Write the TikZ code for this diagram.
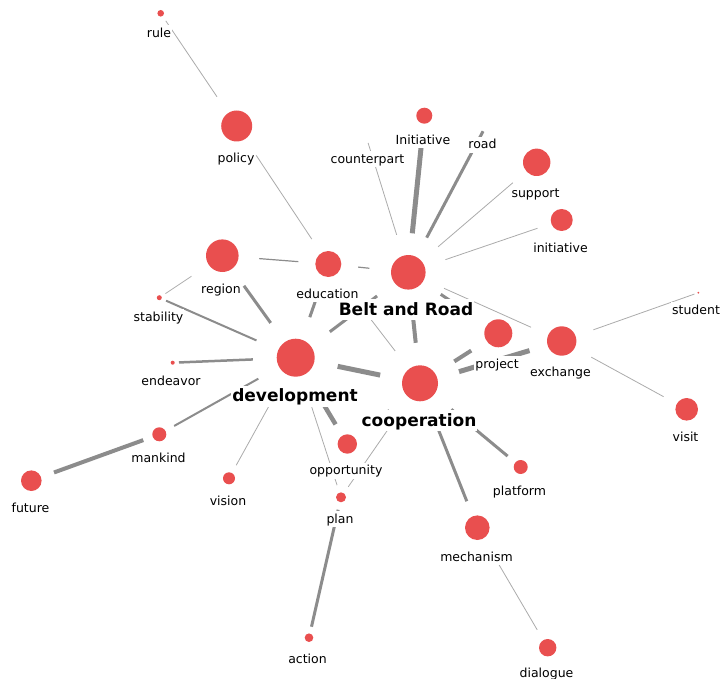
\documentclass[tikz,border=0pt]{standalone}
\usepackage{fontspec}
\setmainfont{DejaVu Sans}
\usepackage{tikz}
\pgfdeclarelayer{links}
\pgfsetlayers{links,main}

\begin{document}
\begin{tikzpicture}[x=1pt,y=-1pt,
        word/.style={circle, fill=dotred, inner sep=0pt, minimum size=2*#1, outer sep=1.15*#1+2},
        tag/.style={anchor=base, fill=white, inner xsep=1pt, inner ysep=1pt, text height=11pt, text depth=3pt, font=\fontsize{12.5}{14}\selectfont},
        bigtag/.style={anchor=base, fill=white, inner xsep=1pt, inner ysep=1pt, text height=15pt, text depth=4pt, font=\fontsize{17}{20}\selectfont\bfseries},
        link/.style={draw=linkgray, line width=#1},
        faint/.style={draw=faintgray, line width=0.8}]
            % colours of the dots and the links
            \definecolor{dotred}{HTML}{E94F4F}
            \definecolor{linkgray}{HTML}{8C8C8C}
            \definecolor{faintgray}{HTML}{ABABAB}
            \useasboundingbox (0,0) rectangle (720,679);
            % words, size of the dot is the weight
            \node[word=3.3] (rule) at (160.7,13.3) {};
            \node[tag] (rule-t) at (159,37.5) {rule};
            \node[word=15.5] (policy) at (236.7,126) {};
            \node[tag] (policy-t) at (236,162.5) {policy};
            \node[word=8] (Initiative) at (424.3,115.7) {};
            \node[tag] (Initiative-t) at (423,144.5) {Initiative};
            \node[word=0, fill=none] (counterpart) at (367.5,141) {};
            \node[tag] (counterpart-t) at (367.5,163.5) {counterpart};
            \node[word=0, fill=none] (road) at (484,129.5) {};
            \node[tag] (road-t) at (482.5,149) {road};
            \node[word=13.7] (support) at (536.7,162.3) {};
            \node[tag] (support-t) at (535.5,197) {support};
            \node[word=11] (initiative) at (561.7,220) {};
            \node[tag] (initiative-t) at (560.5,252) {initiative};
            \node[word=16.3] (region) at (222.3,255.7) {};
            \node[tag] (region-t) at (221,293) {region};
            \node[word=13] (education) at (328.3,264) {};
            \node[tag] (education-t) at (327.5,298) {education};
            \node[word=17.3] (belt) at (408.3,272.3) {};
            \node[bigtag] (belt-t) at (406,315) {Belt and Road};
            \node[word=2.5] (stability) at (159.3,297.7) {};
            \node[tag] (stability-t) at (158.5,321) {stability};
            \node[word=2] (endeavor) at (172.7,362.7) {};
            \node[tag] (endeavor-t) at (171,385.7) {endeavor};
            \node[word=19] (development) at (295.7,357.7) {};
            \node[bigtag] (development-t) at (295,401.7) {development};
            \node[word=18] (cooperation) at (420,383.3) {};
            \node[bigtag] (cooperation-t) at (419,426) {cooperation};
            \node[word=14] (project) at (498.3,333.3) {};
            \node[tag] (project-t) at (497,368) {project};
            \node[word=14.7] (exchange) at (561.7,341) {};
            \node[tag] (exchange-t) at (560.5,376.5) {exchange};
            \node[word=1] (student) at (698.3,292.7) {};
            \node[tag] (student-t) at (696,314) {student};
            \node[word=11.3] (visit) at (686.7,409.3) {};
            \node[tag] (visit-t) at (685.5,441.5) {visit};
            \node[word=7] (mankind) at (159.3,434.3) {};
            \node[tag] (mankind-t) at (158.5,462) {mankind};
            \node[word=10.3] (future) at (31.3,480.7) {};
            \node[tag] (future-t) at (30.5,512) {future};
            \node[word=6] (vision) at (229,478.3) {};
            \node[tag] (vision-t) at (228,505) {vision};
            \node[word=9.7] (opportunity) at (347.3,444) {};
            \node[tag] (opportunity-t) at (346,474.5) {opportunity};
            \node[word=5] (plan) at (341,497.3) {};
            \node[tag] (plan-t) at (340,523) {plan};
            \node[word=7] (platform) at (520.7,467) {};
            \node[tag] (platform-t) at (519.5,495) {platform};
            \node[word=12.3] (mechanism) at (477.3,527.7) {};
            \node[tag] (mechanism-t) at (476.5,561) {mechanism};
            \node[word=4.3] (action) at (309,637.7) {};
            \node[tag] (action-t) at (307.5,663) {action};
            \node[word=8.7] (dialogue) at (547.7,647.7) {};
            \node[tag] (dialogue-t) at (546.5,677) {dialogue};
            % links go under the words
            \begin{pgfonlayer}{links}
            \draw[faint] (rule) -- (policy);
            \draw[faint] (policy) -- (education);
            \draw[link=1.2] (region) -- (education);
            \draw[link=1.2] (education) -- (belt);
            \draw[faint] (region) -- (stability);
            \draw[link=3] (region) -- (development);
            \draw[link=2] (stability) -- (development);
            \draw[link=2.5] (endeavor) -- (development);
            \draw[link=3] (education) -- (development);
            \draw[faint] (education) -- (cooperation);
            \draw[link=3] (belt) -- (development);
            \draw[link=4] (belt) -- (cooperation);
            \draw[link=5] (development) -- (cooperation);
            \draw[link=2] (development) -- (mankind);
            \draw[link=4] (mankind) -- (future);
            \draw[faint] (development) -- (vision);
            \draw[link=4.5] (development) -- (opportunity);
            \draw[faint] (development) -- (plan);
            \draw[faint] (opportunity) -- (cooperation);
            \draw[faint] (plan) -- (cooperation);
            \draw[link=3] (plan) -- (action);
            \draw[link=3] (cooperation) -- (platform);
            \draw[link=3] (cooperation) -- (mechanism);
            \draw[faint] (mechanism) -- (dialogue);
            \draw[link=4] (cooperation) -- (project);
            \draw[link=5] (cooperation) -- (exchange);
            \draw[link=3] (belt) -- (project);
            \draw[faint] (belt) -- (exchange);
            \draw[faint] (exchange) -- (student);
            \draw[faint] (exchange) -- (visit);
            \draw[link=5] (belt) -- (Initiative);
            \draw[link=3] (belt) -- (road);
            \draw[faint] (belt) -- (counterpart);
            \draw[faint] (belt) -- (support);
            \draw[faint] (belt) -- (initiative);
            \end{pgfonlayer}
        \end{tikzpicture}
\end{document}
